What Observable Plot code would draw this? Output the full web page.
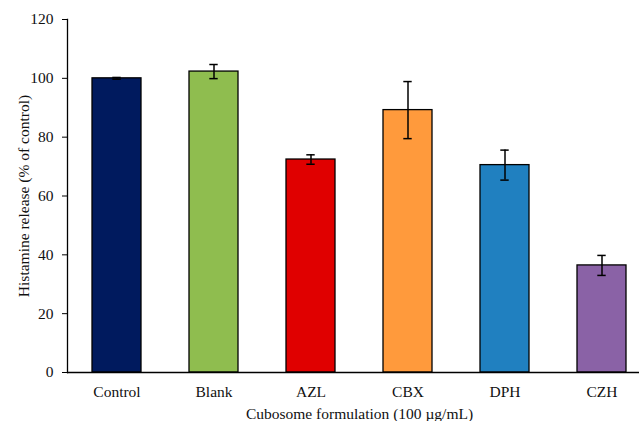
<!DOCTYPE html>
<html><head><meta charset="utf-8">
<script src="https://cdn.jsdelivr.net/npm/d3@7"></script>
<script src="https://cdn.jsdelivr.net/npm/@observablehq/plot@0.6"></script>
<style>body{margin:0;background:#fff}</style>
</head><body><div id="chart"></div>
<script>
const categories = ["Control", "Blank", "AZL", "CBX", "DPH", "CZH"];
const values = [100.0, 102.3, 72.4, 89.2, 70.5, 36.4];
const errors = [0.3, 2.4, 1.6, 9.7, 5.1, 3.4];
const colors = ["#001a5e", "#8fbd4f", "#e00000", "#ff9a3c", "#2080c0", "#8a62a6"];
const yTicks = [0, 20, 40, 60, 80, 100, 120];

const data = categories.map((c, i) => ({name: c, value: values[i], err: errors[i], color: colors[i]}));

const chart = Plot.plot({
  width: 639, height: 421,
  marginLeft: 67, marginRight: -12, marginTop: 19, marginBottom: 49,
  style: {fontFamily: "'Liberation Serif', 'Times New Roman', serif", fontSize: "15.5px", color: "#000", background: "#fff"},
  x: {domain: categories, paddingInner: 0.5, paddingOuter: 0.25},
  y: {domain: [0, 120]},
  marks: [
    Plot.barY(data, {x: "name", y: "value", fill: "color", stroke: "#000", strokeWidth: 1.3}),
    Plot.ruleX(data, {x: "name", y1: d => d.value - d.err, y2: d => d.value + d.err, stroke: "#000", strokeWidth: 1.5}),
    Plot.tickY(data, {x: "name", y: d => d.value + d.err, stroke: "#000", strokeWidth: 1.5, insetLeft: 20.3, insetRight: 20.3}),
    Plot.tickY(data, {x: "name", y: d => d.value - d.err, stroke: "#000", strokeWidth: 1.5, insetLeft: 20.3, insetRight: 20.3}),
    Plot.frame({anchor: "left", stroke: "#000", strokeWidth: 1.3}),
    Plot.ruleY([0], {stroke: "#000", strokeWidth: 1.3}),
    Plot.axisY({ticks: yTicks, tickSize: 5, tickPadding: 9, label: "Histamine release (% of control)", labelAnchor: "center", labelArrow: "none", labelOffset: 50, fill: "#111", stroke: "#000"}),
    Plot.axisX({tickSize: 0, tickPadding: 13, label: "Cubosome formulation (100 µg/mL)", labelAnchor: "center", labelArrow: "none", labelOffset: 46, fill: "#111"})
  ]
});
document.getElementById("chart").appendChild(chart);
</script>
</body></html>
